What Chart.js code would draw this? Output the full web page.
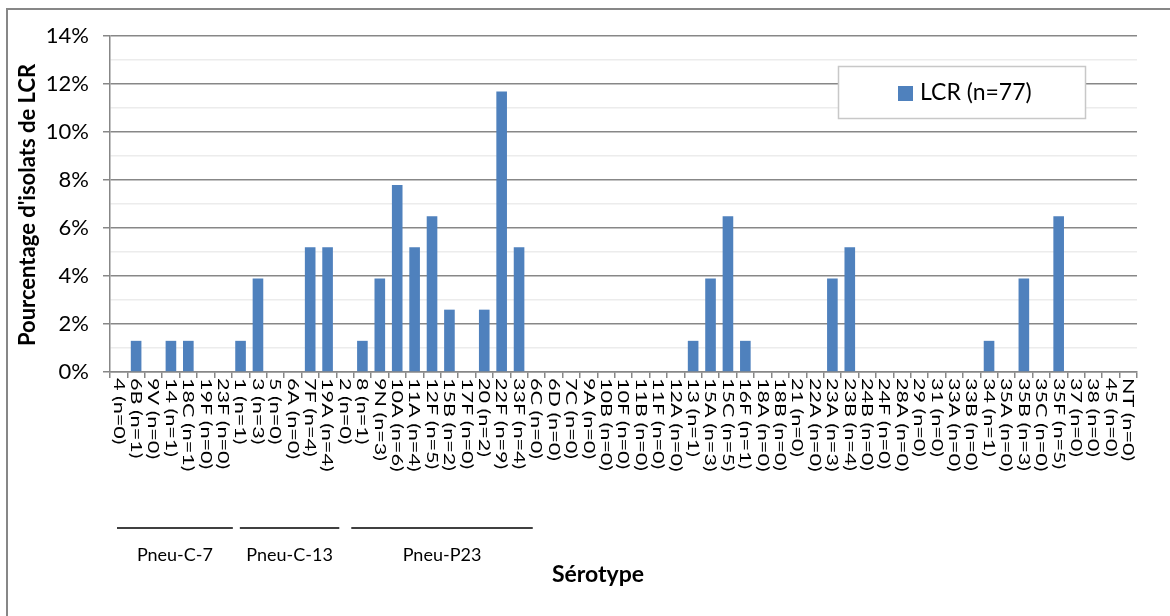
<!DOCTYPE html>
<html>
<head>
<meta charset="utf-8">
<script src="https://cdn.jsdelivr.net/npm/chart.js@4"></script>
<style>
  html, body { margin: 0; padding: 0; background: #fff; }
  #wrap { width: 1170px; height: 616px; position: relative; }
</style>
</head>
<body>
<div id="wrap"><canvas id="lcrChart" width="1170" height="616"></canvas></div>
<script>
// Sérotypes et nombre d'isolats de LCR
const serotypes = ['4', '6B', '9V', '14', '18C', '19F', '23F', '1', '3', '5', '6A', '7F', '19A',
  '2', '8', '9N', '10A', '11A', '12F', '15B', '17F', '20', '22F', '33F',
  '6C', '6D', '7C', '9A', '10B', '10F', '11B', '11F', '12A', '13', '15A', '15C', '16F',
  '18A', '18B', '21', '22A', '23A', '23B', '24B', '24F', '28A', '29', '31', '33A', '33B',
  '34', '35A', '35B', '35C', '35F', '37', '38', '45', 'NT'];
const counts = [0, 1, 0, 1, 1, 0, 0, 1, 3, 0, 0, 4, 4,
  0, 1, 3, 6, 4, 5, 2, 0, 2, 9, 4,
  0, 0, 0, 0, 0, 0, 0, 0, 0, 1, 3, 5, 1,
  0, 0, 0, 0, 3, 4, 0, 0, 0, 0, 0, 0, 0,
  1, 0, 3, 0, 5, 0, 0, 0, 0];
const totalIsolats = 77;

// Groupes vaccinaux (nombre de sérotypes dans chaque groupe, dans l'ordre)
const groupNames = ['Pneu-C-7', 'Pneu-C-13', 'Pneu-P23'];
const groupSizes = [7, 6, 11];

const labels = serotypes.map((s, i) => s + ' (n=' + counts[i] + ')');
const pourcentages = counts.map(n => n / totalIsolats * 100);

const grisAxe = '#878787';
const bleu = '#4F81BD';
const police = 'Lato, "Open Sans", sans-serif';

// retraits des traits de groupe par rapport aux limites des catégories
const retraitsGauche = [7, 8, 15];
const retraitsDroite = [1, 3, 5];

// Étiquettes verticales, cadre, légende, groupes et titres
const decorPlugin = {
  id: 'decor',
  beforeDraw(chart) {
    const ctx = chart.ctx;
    ctx.save();
    ctx.strokeStyle = grisAxe;
    ctx.lineWidth = 2;
    ctx.strokeRect(7, 9, 1200, 700);
    ctx.restore();
  },
  afterDraw(chart) {
    const ctx = chart.ctx;
    const x = chart.scales.x;
    const area = chart.chartArea;

    // étiquettes de l'axe des x, lues de haut en bas
    ctx.save();
    ctx.fillStyle = '#000';
    ctx.font = '16px ' + police;
    ctx.textAlign = 'left';
    ctx.textBaseline = 'middle';
    labels.forEach((lab, i) => {
      const px = x.getPixelForValue(i);
      ctx.save();
      ctx.translate(px, area.bottom + 6);
      ctx.rotate(Math.PI / 2);
      ctx.scale(1.35, 1);
      ctx.fillText(lab, 0, 0);
      ctx.restore();
    });
    ctx.restore();

    // lignes et noms des groupes vaccinaux
    ctx.save();
    ctx.strokeStyle = '#000';
    ctx.lineWidth = 1.5;
    ctx.fillStyle = '#000';
    ctx.font = '18px ' + police;
    ctx.textAlign = 'center';
    ctx.textBaseline = 'middle';
    const half = (x.getPixelForValue(1) - x.getPixelForValue(0)) / 2;
    let debut = 0;
    groupNames.forEach((nom, g) => {
      const fin = debut + groupSizes[g] - 1;
      const x0 = x.getPixelForValue(debut) - half + retraitsGauche[g];
      const x1 = x.getPixelForValue(fin) + half + retraitsDroite[g];
      ctx.beginPath();
      ctx.moveTo(x0, 528);
      ctx.lineTo(x1, 528);
      ctx.stroke();
      ctx.fillText(nom, (x0 + x1) / 2, 555);
      debut = fin + 1;
    });
    ctx.restore();

    // titres des axes
    ctx.save();
    ctx.fillStyle = '#000';
    ctx.font = 'bold 23px ' + police;
    ctx.textAlign = 'center';
    ctx.textBaseline = 'middle';
    ctx.fillText('Sérotype', 598, 575);
    ctx.translate(28, 205);
    ctx.rotate(-Math.PI / 2);
    ctx.font = 'bold 22px ' + police;
    ctx.fillText("Pourcentage d'isolats de LCR", 0, 0);
    ctx.restore();

    // légende
    ctx.save();
    ctx.fillStyle = '#fff';
    ctx.fillRect(838, 66, 247, 52);
    ctx.strokeStyle = '#c8c8c8';
    ctx.lineWidth = 1.5;
    ctx.strokeRect(838.5, 66.5, 247, 52);
    ctx.fillStyle = bleu;
    ctx.fillRect(898, 86, 15, 15);
    ctx.fillStyle = '#000';
    ctx.font = '23px ' + police;
    ctx.textAlign = 'left';
    ctx.textBaseline = 'middle';
    ctx.fillText(chart.data.datasets[0].label, 920, 93);
    ctx.restore();
  }
};

new Chart(document.getElementById('lcrChart'), {
  type: 'bar',
  data: {
    labels: labels,
    datasets: [{
      label: 'LCR (n=' + totalIsolats + ')',
      data: pourcentages,
      backgroundColor: bleu,
      categoryPercentage: 1,
      barPercentage: 0.61
    }]
  },
  options: {
    responsive: false,
    animation: false,
    layout: { padding: { left: 0, top: 36, right: 33, bottom: 0 } },
    plugins: {
      legend: { display: false },
      tooltip: { enabled: false }
    },
    scales: {
      x: {
        afterFit(scale) { scale.height = 244; },
        ticks: { display: false },
        grid: {
          offset: true,
          drawOnChartArea: false,
          drawTicks: true,
          tickLength: 6,
          color: grisAxe,
          lineWidth: 1.5
        },
        border: { color: grisAxe, width: 1.5 }
      },
      y: {
        min: 0,
        max: 14,
        afterFit(scale) { scale.width = 110; },
        ticks: {
          stepSize: 1,
          autoSkip: false,
          padding: 14,
          color: '#000',
          font: { family: police, size: 22 },
          callback: v => (v % 2 === 0 ? v + '%' : '')
        },
        grid: {
          tickLength: 7,
          color: c => (c.tick && c.tick.value % 2 !== 0 ? '#ececec' : grisAxe),
          tickColor: c => (c.tick && c.tick.value % 2 !== 0 ? 'rgba(0,0,0,0)' : grisAxe),
          lineWidth: 1.5
        },
        border: { color: grisAxe, width: 1.5 }
      }
    }
  },
  plugins: [decorPlugin]
});
</script>
</body>
</html>
